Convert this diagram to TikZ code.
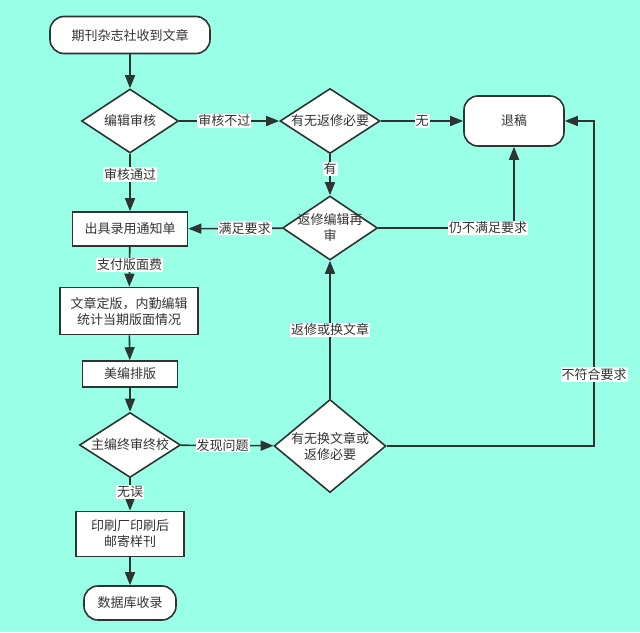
\documentclass[tikz,border=0pt]{standalone}
\usepackage{fontspec}
\setmainfont{Noto Sans CJK SC}
\usetikzlibrary{shapes.geometric,arrows.meta}

\definecolor{bgcol}{RGB}{153,255,230}
\definecolor{linecol}{RGB}{45,52,50}

\tikzset{
    base/.style={draw=linecol, line width=1.6pt, fill=white, text=black!80,
        font=\fontsize{13}{16}\selectfont, align=center},
    terminal/.style={base, rounded corners=14pt, minimum height=37pt},
    process/.style={base, rectangle, inner sep=2pt},
    decision/.style={base, diamond, aspect=1.5, inner sep=0pt},
    flow/.style={draw=linecol, line width=1.6pt, -{Triangle[length=13pt,width=10pt]}},
    edgelabel/.style={fill=white, text=black!80, inner sep=1pt,
        font=\fontsize{13}{15}\selectfont}
}

\begin{document}
\begin{tikzpicture}[x=1pt, y=-1pt]
    \fill[bgcol] (0,0) rectangle (640,632);
    \useasboundingbox (0,0) rectangle (640,632);

    % main column
    \node[terminal, minimum width=160pt] (receive) at (130,35) {期刊杂志社收到文章};
    \node[decision, minimum width=97pt, minimum height=64pt] (review) at (130,121) {编辑审核};
    \node[process, minimum width=115pt, minimum height=34pt] (notice) at (130,229) {出具录用通知单};
    \node[process, minimum width=138pt, minimum height=47pt] (finalize) at (129,311)
        {文章定版，内勤编辑\\统计当期版面情况};
    \node[process, minimum width=95pt, minimum height=26pt] (layout) at (130,374) {美编排版};
    \node[decision, minimum width=101pt, minimum height=65pt] (chief) at (130,445) {主编终审终校};
    \node[process, minimum width=108pt, minimum height=45pt] (print) at (130,534)
        {印刷厂印刷后\\邮寄样刊};
    \node[terminal, minimum width=92pt, minimum height=34pt] (archive) at (130,603) {数据库收录};

    % right side
    \node[decision, minimum width=100pt, minimum height=65pt] (needrev) at (330,121) {有无返修必要};
    \node[terminal, minimum width=100pt, minimum height=50pt] (reject) at (514,121) {退稿};
    \node[decision, inner sep=-4pt, minimum width=95pt, minimum height=64pt] (rereview) at (330,228)
        {返修编辑再\\审};
    \node[decision, aspect=1.2, minimum width=108pt, minimum height=90pt] (change) at (330,446)
        {有无换文章或\\返修必要};
    \coordinate (corner) at (594,121);

    \draw[flow] (receive) -- (review);
    \draw[flow] (review) -- node[edgelabel, pos=0.45] {审核不过} (needrev);
    \draw[flow] (review) -- node[edgelabel, pos=0.36] {审核通过} (notice);
    \draw[flow] (needrev) -- node[edgelabel] {无} (reject);
    \draw[flow] (needrev) -- node[edgelabel, pos=0.35] {有} (rereview);
    \draw[flow] (rereview) -- node[edgelabel, pos=0.4] {满足要求} (notice);
    \draw[flow] (rereview.east) -| node[edgelabel, pos=0.405] {仍不满足要求} (reject.south);
    \draw[flow] (notice) -- node[edgelabel, pos=0.45] {支付版面费} (finalize);
    \draw[flow] (finalize) -- (layout);
    \draw[flow] (layout) -- (chief);
    \draw[flow] (chief) -- node[edgelabel, pos=0.45] {发现问题} (change);
    \draw[flow] (chief) -- node[edgelabel, pos=0.42] {无误} (print);
    \draw[flow] (print) -- (archive);
    \draw[flow] (change) -- node[edgelabel] {返修或换文章} (rereview);
    \draw[flow] (change.east) -| node[edgelabel, pos=0.61] {不符合要求} (corner) -- (reject.east);
\end{tikzpicture}
\end{document}
